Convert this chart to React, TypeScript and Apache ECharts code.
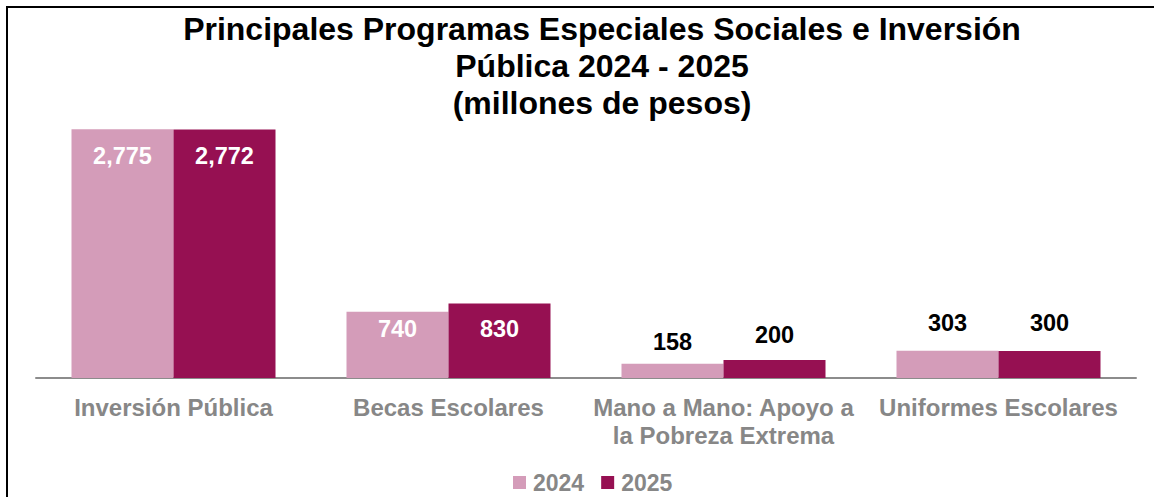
import React, { useEffect, useRef } from "react";
import * as echarts from "echarts";

const titleLines = [
  "Principales Programas Especiales Sociales e Inversión",
  "Pública 2024 - 2025",
  "(millones de pesos)",
];
const categories = [
  "Inversión Pública",
  "Becas Escolares",
  "Mano a Mano: Apoyo a\nla Pobreza Extrema",
  "Uniformes Escolares",
];
const seriesNames = ["2024", "2025"];
const values2024 = [2775, 740, 158, 303];
const values2025 = [2772, 830, 200, 300];

// label placement per category (inside bar for the tall ones)
const labelInside = [true, true, false, false];
const labelDist2024 = [15, 5, 10, 16];
const labelDist2025 = [15, 13, 13, 16];

const FONT = "'Liberation Sans', Arial, sans-serif";
const COLOR_2024 = "#D49CB9";
const COLOR_2025 = "#961052";
const GRAY = "#878787";

function buildData(values: number[], dists: number[]) {
  return values.map((v, i) => ({
    value: v,
    label: {
      position: labelInside[i] ? "insideTop" : "top",
      distance: dists[i],
      color: labelInside[i] ? "#ffffff" : "#000000",
    },
  }));
}

export default function App() {
  const ref = useRef<HTMLDivElement>(null);
  useEffect(() => {
    if (!ref.current) return;
    const chart = echarts.init(ref.current, undefined, { renderer: "svg" });
    const labelBase = {
      show: true,
      fontSize: 23.5,
      fontWeight: "bold",
      fontFamily: FONT,
      formatter: (p: any) => Number(p.value).toLocaleString("en-US"),
    };
    chart.setOption({
      animation: false,
      backgroundColor: "#ffffff",
      textStyle: { fontFamily: FONT },
      title: {
        text: titleLines.join("\n"),
        left: 602,
        top: 10,
        padding: 0,
        textAlign: "center",
        textStyle: {
          fontSize: 32,
          fontWeight: "bold",
          color: "#000000",
          lineHeight: 37,
          fontFamily: FONT,
        },
      },
      graphic: [
        {
          type: "rect",
          shape: { x: 7, y: 7, width: 1300, height: 700 },
          style: { fill: "none", stroke: "#000000", lineWidth: 2 },
          silent: true,
          z: 100,
        },
      ],
      legend: {
        data: seriesNames,
        left: 513,
        top: 471,
        padding: 0,
        icon: "rect",
        itemWidth: 13,
        itemHeight: 13,
        itemGap: 17,
        textStyle: {
          fontSize: 23,
          fontWeight: "bold",
          color: GRAY,
          fontFamily: FONT,
          padding: [0, 0, 0, 2],
        },
      },
      grid: { left: 36, right: 18, top: 109, bottom: 119, containLabel: false },
      xAxis: {
        type: "category",
        data: categories,
        axisLine: { show: true, lineStyle: { color: "#8c8c8c", width: 2 } },
        axisTick: { show: false },
        axisLabel: {
          interval: 0,
          margin: 15,
          fontSize: 24,
          lineHeight: 28,
          fontWeight: "bold",
          color: GRAY,
          fontFamily: FONT,
        },
      },
      yAxis: {
        type: "value",
        min: 0,
        max: 3000,
        show: false,
        splitLine: { show: false },
      },
      series: [
        {
          name: seriesNames[0],
          type: "bar",
          barWidth: 102,
          barGap: "0%",
          itemStyle: { color: COLOR_2024 },
          label: labelBase,
          data: buildData(values2024, labelDist2024),
        },
        {
          name: seriesNames[1],
          type: "bar",
          barWidth: 102,
          barGap: "0%",
          itemStyle: { color: COLOR_2025 },
          label: labelBase,
          data: buildData(values2025, labelDist2025),
        },
      ],
    });
    return () => chart.dispose();
  }, []);
  return (
    <div
      ref={ref}
      style={{ position: "absolute", left: 0, top: 0, width: 1154, height: 497 }}
    />
  );
}
